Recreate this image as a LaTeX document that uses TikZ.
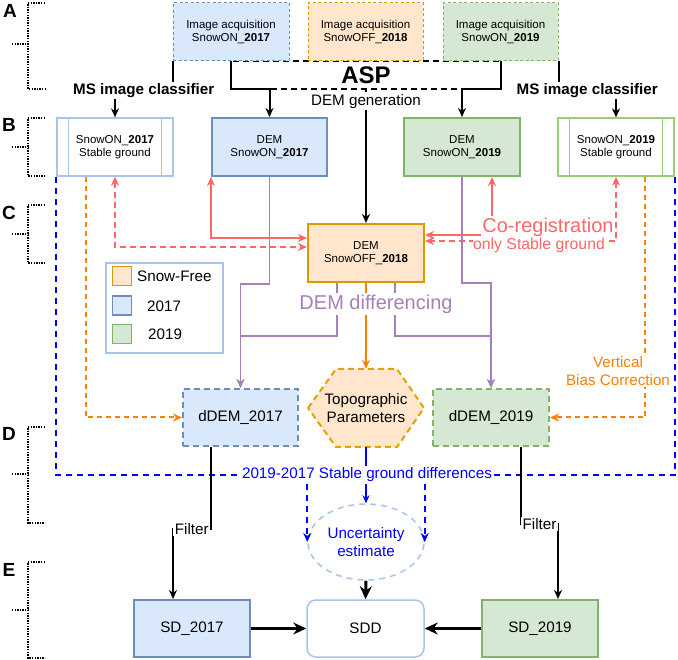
\documentclass[tikz,border=0pt]{standalone}
\usepackage{fontspec}
\setmainfont{Liberation Sans}
\usetikzlibrary{arrows.meta,calc,shapes.geometric}
\definecolor{bfill}{HTML}{DAE8FC}\definecolor{bline}{HTML}{6C8EBF}
\definecolor{gfill}{HTML}{D5E8D4}\definecolor{gline}{HTML}{82B366}
\definecolor{ofill}{HTML}{FFE6CC}\definecolor{oline}{HTML}{D79B00}
\definecolor{lblue}{HTML}{A9C4EB}\definecolor{lgreen}{HTML}{97D077}
\definecolor{cored}{HTML}{FF6666}\definecolor{purp}{HTML}{A680B8}
\definecolor{orgarr}{HTML}{FF8000}\definecolor{pblue}{HTML}{0000FF}
\definecolor{hexline}{HTML}{E6A000}
\tikzset{
  every node/.style={inner sep=0pt},
  fsmall/.style={font=\fontsize{11.5pt}{13.5pt}\selectfont},
  fmid/.style={font=\fontsize{15.2pt}{18pt}\selectfont},
  box/.style={rectangle, minimum width=116pt, minimum height=58pt, align=center, fsmall},
  imgbox/.style={box, draw, line width=1pt, dash pattern=on 3pt off 2.5pt},
  dembox/.style={box, draw, line width=2pt},
  stablebox/.style={box, draw, line width=1.3pt, fill=white},
  ddem/.style={box, minimum height=57pt, draw, line width=2pt, dash pattern=on 6pt off 4pt, fmid},
  sdbox/.style={box, minimum height=57pt, draw, line width=2pt, fmid},
  lbl/.style={fill=white, inner sep=1.5pt},
  blk/.style={draw=black, line width=2pt},
  arr/.style={-{Stealth[length=9pt,width=8pt]}},
  arrboth/.style={{Stealth[length=9pt,width=8pt]}-{Stealth[length=9pt,width=8pt]}},
  bigarr/.style={draw=black, line width=3pt, -{Stealth[length=13pt,width=12pt]}},
  redl/.style={draw=cored, line width=2pt},
  redd/.style={redl, dash pattern=on 6pt off 4pt},
  purpl/.style={draw=purp, line width=1.8pt},
  orgd/.style={draw=orgarr, line width=2pt, dash pattern=on 5pt off 4pt},
  blued/.style={draw=pblue, line width=2pt, dash pattern=on 6pt off 5pt},
  bluethin/.style={draw=pblue, line width=1.2pt},
  brk/.style={draw=black, line width=1.4pt, dash pattern=on 1.4pt off 1.2pt},
  letter/.style={font=\bfseries\fontsize{19pt}{21pt}\selectfont},
}
\begin{document}
\begin{tikzpicture}[x=1pt,y=-1pt]
\useasboundingbox (0,0) rectangle (678,660);
% ---- left brackets
\foreach \t/\b/\m in {3/89/44, 118/176/147, 205/263/234, 427/523/474, 562/658/610}{
  \draw[brk] (45,\t) -- (28,\t) -- (28,\b) -- (45,\b);
  \draw[brk] (12,\m) -- (28,\m);
}
\node[letter] (lA) at (10,11) {A};
\node[letter] (lB) at (9,125) {B};
\node[letter] (lC) at (9,213) {C};
\node[letter] (lD) at (9,434) {D};
\node[letter] (lE) at (9,570) {E};
% ---- ASP region
\node[draw, dash pattern=on 6pt off 4pt, line width=1.5pt, minimum width=270pt, minimum height=28pt,
      font=\bfseries\fontsize{24pt}{28pt}\selectfont] (asp) at (366,75) {ASP};
% ---- top image boxes
\node[imgbox, draw=bline, fill=bfill] (imgA) at (231,32) {Image acquisition\\SnowON\_\textbf{2017}};
\node[imgbox, draw=oline, fill=ofill, minimum width=115pt] (imgB) at (365.5,32) {Image acquisition\\SnowOFF\_\textbf{2018}};
\node[imgbox, draw=gline, fill=gfill, minimum width=115pt] (imgC) at (500.5,32) {Image acquisition\\SnowON\_\textbf{2019}};
% ---- row B
\node[stablebox, draw=lblue] (st17) at (115,147) {SnowON\_\textbf{2017}\\Stable ground};
\draw[lblue, line width=1.3pt] ($(st17.north west)+(12,0)$) -- ($(st17.south west)+(12,0)$)
      ($(st17.north east)+(-12,0)$) -- ($(st17.south east)+(-12,0)$);
\node[stablebox, draw=lgreen] (st19) at (616,147) {SnowON\_\textbf{2019}\\Stable ground};
\draw[lgreen, line width=1.3pt] ($(st19.north west)+(12,0)$) -- ($(st19.south west)+(12,0)$)
      ($(st19.north east)+(-12,0)$) -- ($(st19.south east)+(-12,0)$);
\node[dembox, draw=bline, fill=bfill, minimum width=115pt] (dem17) at (269.5,147) {DEM\\SnowON\_\textbf{2017}};
\node[dembox, draw=gline, fill=gfill] (dem19) at (462,147) {DEM\\SnowON\_\textbf{2019}};
\node[dembox, draw=oline, fill=ofill] (dem18) at (366,253) {DEM\\SnowOFF\_\textbf{2018}};
% ---- black ASP edges
\draw[blk,arr] (imgA.south) -- ++(0,28) -| (dem17.north);
\draw[blk,arr] (imgC.south) -- ++(0,28) -| (dem19.north);
\draw[blk,arr] (asp.south) -- node[lbl, pos=0.085, fmid]{DEM generation} (dem18.north);
\draw[blk,arr] (imgA.south west) -- ++(0,29) -| node[lbl, pos=0.25, font=\bfseries\fontsize{15.2pt}{18pt}\selectfont]{MS image classifier} (st17.north);
\draw[blk,arr] (imgC.south east) -- ++(0,29) -| node[lbl, pos=0.25, font=\bfseries\fontsize{15.2pt}{18pt}\selectfont]{MS image classifier} (st19.north);
% ---- co-registration
\draw[redl,arrboth] (dem17.south west) |- ($(dem18.west)+(0,-15)$);
\draw[redd,arrboth] (st17.south) |- ($(dem18.west)+(0,-6)$);
\draw[redl,arrboth] ($(dem19.south)+(30,0)$) |- ($(dem18.east)+(0,-18)$);
\draw[redd,arrboth] (st19.south) |- ($(dem18.east)+(0,-12)$);
\node[lbl, text=cored, font=\fontsize{20pt}{24pt}\selectfont] (coreg) at (548,227) {Co-registration};
\node[lbl, text=cored, font=\fontsize{15.8pt}{18pt}\selectfont, inner sep=0.5pt] (only) at (539,245) {only Stable ground};
% ---- legend
\node[draw=lblue, line width=1.5pt, minimum width=117pt, minimum height=90pt] (leg) at (164.5,308) {};
\node[draw=oline, fill=ofill, line width=1.5pt, minimum size=19pt] (lg1) at (122,276) {};
\node[draw=bline, fill=bfill, line width=1.5pt, minimum size=19pt] (lg2) at (122,305.5) {};
\node[draw=gline, fill=gfill, line width=1.5pt, minimum size=19pt] (lg3) at (122,334) {};
\node[fmid, anchor=west] (lt1) at (137,276) {Snow-Free};
\node[fmid, anchor=west] (lt2) at (147,306) {2017};
\node[fmid, anchor=west] (lt3) at (148,334) {2019};
% ---- row D
\node[ddem, draw=bline, fill=bfill, minimum width=115pt] (dd17) at (240.5,417.5) {dDEM\_2017};
\node[ddem, draw=gline, fill=gfill] (dd19) at (491,417.5) {dDEM\_2019};
\coordinate (hexc) at (366,408);
\filldraw[draw=hexline, fill=ofill, line width=2pt, dash pattern=on 6pt off 4pt]
  ($(hexc)+(-58,0)$) -- ($(hexc)+(-30,-39)$) -- ($(hexc)+(31,-39)$) -- ($(hexc)+(58,0)$)
  -- ($(hexc)+(31,39)$) -- ($(hexc)+(-30,39)$) -- cycle;
\node[fmid, align=center, minimum width=116pt, minimum height=78pt] (hex) at (hexc) {Topographic\\Parameters};
% ---- DEM differencing
\draw[purpl,arr] (dem17.south) -- ++(0,107) -| (dd17.north);
\draw[purpl,arr] ($(dem18.south)+(-29,0)$) -- ++(0,53) -| (dd17.north);
\draw[purpl,arr] ($(dem18.south)+(29,0)$) -- ++(0,53) -| (dd19.north);
\draw[purpl,arr] (dem19.south) -- ++(0,106) -| (dd19.north);
\draw[draw=orgarr, line width=2pt, arr] (dem18.south) -- (hex.north);
\node[lbl, text=purp, font=\fontsize{20pt}{24pt}\selectfont] (diff) at (376,304) {DEM differencing};
% ---- vertical bias correction
\draw[orgd,arr] ($(st17.south)+(-29,0)$) |- (dd17.west);
\draw[orgd,arr] ($(st19.south)+(29,0)$) |- (dd19.east);
\node[lbl, text=orgarr, fmid, align=center] (vbc) at (618,371) {Vertical\\Bias Correction};
% ---- stable ground differences
\node[lbl, text=pblue, fmid] (sgd) at (367,475) {2019-2017 Stable ground differences};
\node[ellipse, draw=lblue, line width=1.5pt, dash pattern=on 6pt off 5pt, minimum width=116pt, minimum height=76pt,
      text=pblue, fmid, align=center] (unc) at (366,542) {Uncertainty\\estimate};
\draw[blued] (st17.south west) |- (sgd.west);
\draw[blued] (st19.south east) |- (sgd.east);
\draw[blued,arr] (sgd.south -| unc.west) -- (unc.west);
\draw[blued,arr] (sgd.south -| unc.east) -- (unc.east);
\draw[bluethin] ($(dd17.south)+(29,0)$) -- ($(dd17.south)+(29,0)$ |- sgd.north);
\draw[bluethin] ($(dd19.south)+(-29,0)$) -- ($(dd19.south)+(-29,0)$ |- sgd.north);
\draw[bluethin] (hex.south) -- (hex.south |- sgd.north);
\draw[bluethin,-{Stealth[length=8pt,width=7pt]}] (sgd.south -| unc.north) -- (unc.north);
% ---- row E
\node[sdbox, draw=bline, fill=bfill] (sd17) at (192,628.5) {SD\_2017};
\node[sdbox, draw=gline, fill=gfill] (sd19) at (540,628.5) {SD\_2019};
\node[box, minimum width=117pt, minimum height=57pt, draw=lblue, line width=1.5pt, rounded corners=9pt, fmid] (sdd) at (365.5,628.5) {SDD};
\draw[blk,arr] ($(dd17.south)+(-30,0)$) -- ++(0,82) -| node[lbl, pos=0.25, fmid]{Filter} ($(sd17.north)+(-19,0)$);
\draw[blk,arr] ($(dd19.south)+(30,0)$) -- ++(0,77) -| node[lbl, pos=0.25, fmid]{Filter} ($(sd19.north)+(18,0)$);
\draw[bigarr] (sd17.east) -- (sdd.west);
\draw[bigarr] (sd19.west) -- (sdd.east);
\draw[bigarr] (unc.south) -- (sdd.north);
\end{tikzpicture}
\end{document}
